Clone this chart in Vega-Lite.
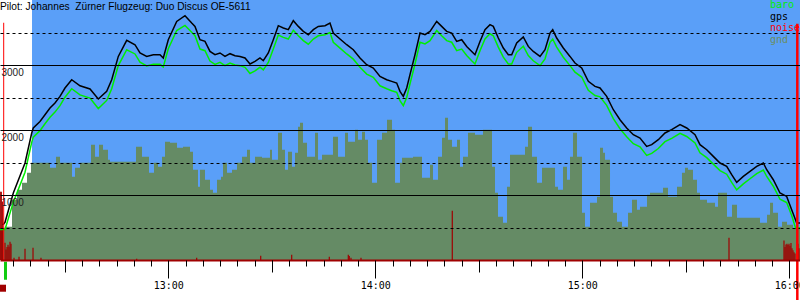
{
 "$schema": "https://vega.github.io/schema/vega-lite/v6.json",
 "width": 800, "height": 260,
 "autosize": {"type": "none"},
 "padding": {"left": 0, "top": 0, "right": 0, "bottom": 40},
 "background": "white",
 "config": {"view": {"stroke": null}},
 "resolve": {"axis": {"x": "independent"}},
 "datasets": {
  "gps": [{"m":12.09,"a":540},{"m":12.67,"a":580},{"m":15.08,"a":1031},{"m":18.47,"a":1492},{"m":20.41,"a":1954},{"m":20.87,"a":2031},{"m":22.81,"a":2132},{"m":24.26,"a":2235},{"m":25.71,"a":2338},{"m":27.16,"a":2415},{"m":28.61,"a":2517},{"m":30.06,"a":2646},{"m":32.0,"a":2774},{"m":34.41,"a":2681},{"m":37.31,"a":2631},{"m":39.71,"a":2477},{"m":42.15,"a":2594},{"m":43.6,"a":2774},{"m":45.51,"a":3132},{"m":47.95,"a":3379},{"m":50.35,"a":3312},{"m":51.8,"a":3185},{"m":53.74,"a":3132},{"m":55.66,"a":3158},{"m":57.6,"a":3158},{"m":58.55,"a":3108},{"m":60.0,"a":3389},{"m":62.44,"a":3671},{"m":64.84,"a":3758},{"m":66.79,"a":3646},{"m":67.74,"a":3594},{"m":69.19,"a":3389},{"m":70.64,"a":3363},{"m":72.09,"a":3209},{"m":73.54,"a":3158},{"m":74.99,"a":3185},{"m":76.44,"a":3132},{"m":77.89,"a":3174},{"m":79.34,"a":3143},{"m":80.79,"a":3132},{"m":82.24,"a":3108},{"m":83.69,"a":3015},{"m":85.14,"a":3055},{"m":86.58,"a":3108},{"m":87.54,"a":3066},{"m":88.99,"a":3185},{"m":90.44,"a":3389},{"m":91.89,"a":3605},{"m":93.34,"a":3569},{"m":94.79,"a":3543},{"m":96.24,"a":3682},{"m":97.69,"a":3594},{"m":99.14,"a":3517},{"m":100.59,"a":3466},{"m":102.04,"a":3543},{"m":103.48,"a":3594},{"m":105.43,"a":3605},{"m":106.87,"a":3646},{"m":107.83,"a":3492},{"m":109.78,"a":3400},{"m":111.72,"a":3312},{"m":113.63,"a":3235},{"m":115.57,"a":3108},{"m":117.51,"a":3004},{"m":119.43,"a":2954},{"m":121.37,"a":2824},{"m":123.31,"a":2774},{"m":124.76,"a":2748},{"m":126.21,"a":2723},{"m":127.16,"a":2594},{"m":128.12,"a":2517},{"m":129.11,"a":2646},{"m":130.06,"a":2851},{"m":131.51,"a":3158},{"m":132.96,"a":3492},{"m":134.41,"a":3466},{"m":135.86,"a":3517},{"m":137.8,"a":3671},{"m":139.25,"a":3594},{"m":140.7,"a":3517},{"m":142.15,"a":3492},{"m":143.6,"a":3363},{"m":145.05,"a":3389},{"m":146.5,"a":3286},{"m":147.95,"a":3209},{"m":148.9,"a":3158},{"m":150.35,"a":3363},{"m":151.8,"a":3543},{"m":153.25,"a":3620},{"m":154.21,"a":3594},{"m":155.66,"a":3415},{"m":157.11,"a":3261},{"m":158.56,"a":3158},{"m":159.54,"a":3158},{"m":160.99,"a":3338},{"m":162.9,"a":3431},{"m":164.35,"a":3286},{"m":165.8,"a":3209},{"m":167.75,"a":3132},{"m":169.2,"a":3235},{"m":170.65,"a":3492},{"m":171.43,"a":3543},{"m":172.58,"a":3415},{"m":174.5,"a":3261},{"m":176.44,"a":3132},{"m":177.89,"a":3031},{"m":179.83,"a":2954},{"m":181.75,"a":2748},{"m":183.69,"a":2671},{"m":185.14,"a":2646},{"m":187.08,"a":2517},{"m":189.0,"a":2312},{"m":190.93,"a":2158},{"m":192.87,"a":2031},{"m":194.8,"a":1928},{"m":196.73,"a":1877},{"m":198.67,"a":1748},{"m":200.12,"a":1774},{"m":202.04,"a":1851},{"m":203.98,"a":1954},{"m":205.92,"a":2005},{"m":208.33,"a":2082},{"m":210.27,"a":2031},{"m":212.68,"a":1928},{"m":214.12,"a":1774},{"m":216.07,"a":1697},{"m":217.98,"a":1594},{"m":219.92,"a":1492},{"m":221.86,"a":1440},{"m":223.31,"a":1312},{"m":224.76,"a":1194},{"m":226.68,"a":1286},{"m":228.62,"a":1363},{"m":230.56,"a":1440},{"m":232.48,"a":1492},{"m":233.46,"a":1389},{"m":235.37,"a":1235},{"m":237.31,"a":1031},{"m":239.25,"a":978},{"m":240.7,"a":774},{"m":242.15,"a":569},{"m":243.11,"a":569}],
  "baro": [{"m":11.22,"a":470},{"m":12.67,"a":470},{"m":15.08,"a":890},{"m":18.47,"a":1350},{"m":20.41,"a":1810},{"m":20.87,"a":1890},{"m":22.81,"a":1990},{"m":24.26,"a":2095},{"m":25.71,"a":2195},{"m":27.16,"a":2275},{"m":28.61,"a":2375},{"m":30.06,"a":2505},{"m":32.0,"a":2635},{"m":34.41,"a":2540},{"m":37.31,"a":2490},{"m":39.71,"a":2330},{"m":42.15,"a":2455},{"m":43.6,"a":2635},{"m":45.51,"a":2990},{"m":47.95,"a":3235},{"m":50.35,"a":3170},{"m":51.8,"a":3045},{"m":53.74,"a":2985},{"m":55.66,"a":3010},{"m":57.6,"a":3010},{"m":58.55,"a":2970},{"m":60.0,"a":3250},{"m":62.44,"a":3530},{"m":64.84,"a":3610},{"m":66.79,"a":3505},{"m":67.74,"a":3450},{"m":69.19,"a":3245},{"m":70.64,"a":3220},{"m":72.09,"a":3060},{"m":73.54,"a":3010},{"m":74.99,"a":3040},{"m":76.44,"a":2990},{"m":77.89,"a":3030},{"m":79.34,"a":3000},{"m":80.79,"a":2990},{"m":82.24,"a":2965},{"m":83.69,"a":2870},{"m":85.14,"a":2910},{"m":86.58,"a":2965},{"m":87.54,"a":2925},{"m":88.99,"a":3040},{"m":90.44,"a":3245},{"m":91.89,"a":3460},{"m":93.34,"a":3425},{"m":94.79,"a":3400},{"m":96.24,"a":3535},{"m":97.69,"a":3450},{"m":99.14,"a":3375},{"m":100.59,"a":3320},{"m":102.04,"a":3400},{"m":103.48,"a":3450},{"m":105.43,"a":3465},{"m":106.87,"a":3500},{"m":107.83,"a":3350},{"m":109.78,"a":3260},{"m":111.72,"a":3170},{"m":113.63,"a":3090},{"m":115.57,"a":2965},{"m":117.51,"a":2860},{"m":119.43,"a":2810},{"m":121.37,"a":2680},{"m":123.31,"a":2635},{"m":124.76,"a":2605},{"m":126.21,"a":2580},{"m":127.16,"a":2450},{"m":128.12,"a":2375},{"m":129.11,"a":2500},{"m":130.06,"a":2710},{"m":131.51,"a":3015},{"m":132.96,"a":3350},{"m":134.41,"a":3325},{"m":135.86,"a":3375},{"m":137.8,"a":3530},{"m":139.25,"a":3450},{"m":140.7,"a":3375},{"m":142.15,"a":3350},{"m":143.6,"a":3220},{"m":145.05,"a":3245},{"m":146.5,"a":3145},{"m":147.95,"a":3065},{"m":148.9,"a":3015},{"m":150.35,"a":3220},{"m":151.8,"a":3400},{"m":153.25,"a":3480},{"m":154.21,"a":3450},{"m":155.66,"a":3275},{"m":157.11,"a":3120},{"m":158.56,"a":3015},{"m":159.54,"a":3015},{"m":160.99,"a":3195},{"m":162.9,"a":3290},{"m":164.35,"a":3145},{"m":165.8,"a":3065},{"m":167.75,"a":2990},{"m":169.2,"a":3095},{"m":170.65,"a":3350},{"m":171.43,"a":3400},{"m":172.58,"a":3275},{"m":174.5,"a":3120},{"m":176.44,"a":2990},{"m":177.89,"a":2890},{"m":179.83,"a":2815},{"m":181.75,"a":2610},{"m":183.69,"a":2530},{"m":185.14,"a":2510},{"m":187.08,"a":2380},{"m":189.0,"a":2175},{"m":190.93,"a":2020},{"m":192.87,"a":1895},{"m":194.8,"a":1790},{"m":196.73,"a":1740},{"m":198.67,"a":1610},{"m":200.12,"a":1640},{"m":202.04,"a":1715},{"m":203.98,"a":1820},{"m":205.92,"a":1870},{"m":208.33,"a":1950},{"m":210.27,"a":1900},{"m":212.68,"a":1800},{"m":214.12,"a":1650},{"m":216.07,"a":1575},{"m":217.98,"a":1475},{"m":219.92,"a":1375},{"m":221.86,"a":1320},{"m":223.31,"a":1195},{"m":224.76,"a":1080},{"m":226.68,"a":1170},{"m":228.62,"a":1250},{"m":230.56,"a":1330},{"m":232.48,"a":1385},{"m":233.46,"a":1285},{"m":235.37,"a":1135},{"m":237.31,"a":935},{"m":239.25,"a":885},{"m":240.7,"a":685},{"m":241.8,"a":497},{"m":243.11,"a":497}],
  "gnd": [{"m":11.22,"a":497},{"m":12.67,"a":512},{"m":14.7,"a":928},{"m":16.15,"a":1082},{"m":17.6,"a":1189},{"m":19.05,"a":1343},{"m":20.21,"a":1497},{"m":25.71,"a":1420},{"m":27.45,"a":1589},{"m":28.61,"a":1497},{"m":32.09,"a":1281},{"m":32.96,"a":1420},{"m":34.41,"a":1497},{"m":37.6,"a":1774},{"m":38.76,"a":1589},{"m":39.92,"a":1774},{"m":41.08,"a":1697},{"m":42.52,"a":1543},{"m":43.1,"a":1512},{"m":50.64,"a":1743},{"m":52.38,"a":1589},{"m":54.41,"a":1343},{"m":55.86,"a":1497},{"m":57.02,"a":1435},{"m":58.18,"a":1589},{"m":59.05,"a":1820},{"m":60.5,"a":1805},{"m":62.53,"a":1728},{"m":64.27,"a":1743},{"m":66.29,"a":1666},{"m":67.16,"a":1389},{"m":68.61,"a":1128},{"m":69.19,"a":1389},{"m":70.64,"a":1235},{"m":72.09,"a":1082},{"m":72.96,"a":1035},{"m":74.12,"a":1235},{"m":75.28,"a":1281},{"m":75.86,"a":1497},{"m":77.02,"a":1343},{"m":78.47,"a":1389},{"m":79.92,"a":1497},{"m":81.37,"a":1589},{"m":82.82,"a":1697},{"m":83.69,"a":1497},{"m":85.14,"a":1589},{"m":87.16,"a":1574},{"m":89.48,"a":1697},{"m":90.06,"a":1543},{"m":91.8,"a":1958},{"m":92.96,"a":1697},{"m":93.83,"a":1389},{"m":94.7,"a":1666},{"m":95.86,"a":1435},{"m":96.73,"a":1651},{"m":97.6,"a":2051},{"m":98.18,"a":2112},{"m":99.05,"a":1805},{"m":100.21,"a":1589},{"m":102.53,"a":1958},{"m":103.4,"a":1543},{"m":104.56,"a":1620},{"m":107.74,"a":1897},{"m":109.19,"a":1589},{"m":111.22,"a":1958},{"m":112.09,"a":1820},{"m":114.12,"a":2005},{"m":114.99,"a":1851},{"m":116.15,"a":1974},{"m":117.02,"a":1851},{"m":117.89,"a":1497},{"m":119.05,"a":1189},{"m":120.5,"a":1851},{"m":121.95,"a":1958},{"m":123.4,"a":2158},{"m":124.85,"a":2005},{"m":125.72,"a":1189},{"m":127.16,"a":1497},{"m":127.74,"a":1574},{"m":130.93,"a":1589},{"m":133.54,"a":1266},{"m":135.86,"a":1466},{"m":136.73,"a":1235},{"m":138.18,"a":1589},{"m":139.34,"a":1882},{"m":140.21,"a":2189},{"m":141.08,"a":1851},{"m":142.24,"a":1743},{"m":143.69,"a":1851},{"m":144.56,"a":1435},{"m":145.43,"a":1589},{"m":146.87,"a":1958},{"m":148.9,"a":1928},{"m":151.22,"a":2005},{"m":153.83,"a":1435},{"m":154.7,"a":1035},{"m":155.57,"a":666},{"m":157.02,"a":574},{"m":158.18,"a":1128},{"m":159.05,"a":1620},{"m":163.4,"a":1743},{"m":164.27,"a":2051},{"m":165.43,"a":1589},{"m":166.87,"a":1189},{"m":168.33,"a":1420},{"m":172.1,"a":1128},{"m":172.96,"a":1082},{"m":174.41,"a":1435},{"m":175.57,"a":1235},{"m":176.44,"a":1589},{"m":177.31,"a":1958},{"m":178.47,"a":1589},{"m":179.92,"a":728},{"m":180.79,"a":512},{"m":182.24,"a":881},{"m":184.27,"a":974},{"m":185.14,"a":1728},{"m":186.01,"a":1651},{"m":186.59,"a":1543},{"m":188.04,"a":974},{"m":188.91,"a":728},{"m":190.06,"a":589},{"m":191.51,"a":512},{"m":193.26,"a":728},{"m":194.41,"a":928},{"m":195.86,"a":774},{"m":196.73,"a":820},{"m":198.76,"a":1005},{"m":199.63,"a":1035},{"m":203.4,"a":1112},{"m":204.85,"a":974},{"m":207.46,"a":1128},{"m":208.9,"a":1343},{"m":209.77,"a":1420},{"m":210.64,"a":1389},{"m":212.09,"a":1235},{"m":213.25,"a":1035},{"m":214.12,"a":928},{"m":216.15,"a":881},{"m":218.47,"a":820},{"m":219.34,"a":1035},{"m":221.95,"a":666},{"m":223.4,"a":851},{"m":224.85,"a":651},{"m":231.51,"a":574},{"m":233.55,"a":697},{"m":234.42,"a":881},{"m":235.29,"a":728},{"m":236.73,"a":512},{"m":237.89,"a":589},{"m":239.34,"a":543},{"m":241.08,"a":497},{"m":243.11,"a":497}],
  "noise": [{"m":11.3,"a":1050},{"m":11.6,"a":1050},{"m":11.9,"a":900},{"m":12.67,"a":266},{"m":12.96,"a":160},{"m":13.25,"a":200},{"m":13.54,"a":235},{"m":13.83,"a":205},{"m":14.12,"a":280},{"m":14.41,"a":250},{"m":15.28,"a":35},{"m":16.73,"a":51},{"m":18.47,"a":174},{"m":20.79,"a":189},{"m":23.1,"a":35},{"m":50.84,"a":20},{"m":68.23,"a":35},{"m":86.79,"a":66},{"m":95.77,"a":82},{"m":106.67,"a":51},{"m":112.18,"a":82},{"m":112.47,"a":60},{"m":112.96,"a":35},{"m":115.86,"a":35},{"m":142.32,"a":758},{"m":222.53,"a":343},{"m":238.47,"a":300},{"m":238.76,"a":200},{"m":239.05,"a":240},{"m":239.34,"a":250},{"m":239.63,"a":230},{"m":239.92,"a":250},{"m":240.21,"a":220},{"m":240.5,"a":260},{"m":240.79,"a":180},{"m":241.08,"a":150},{"m":241.37,"a":120},{"m":241.66,"a":100},{"m":242.53,"a":250},{"m":242.82,"a":180}]
 },
 "layer": [
  {"data": {"values": [{"m": 20.5, "m2": 243.11, "a": 0, "a2": 4000}]},
   "mark": {"type": "rect", "color": "#5a9ff8"},
   "encoding": {
    "x": {"field": "m", "type": "quantitative", "scale": {"domain": [11.22, 243.11], "nice": false, "zero": false},
     "axis": {"title": null, "orient": "bottom", "values": [60, 120, 180, 240], "grid": false, "domainColor": "#a00000", "domainWidth": 2, "tickColor": "#000", "tickWidth": 1, "tickSize": 18,
      "labelExpr": "(12 + datum.value / 60) + ':00'",
      "labelFont": "DejaVu Sans Mono", "labelFontSize": 10, "labelColor": "#000", "labelPadding": 2, "labelOverlap": false, "labelFlush": false, "zindex": 1}},
    "x2": {"field": "m2"},
    "y": {"field": "a", "type": "quantitative", "scale": {"domain": [0, 4000], "nice": false},
     "axis": {"title": null, "values": [500,1000,1500,2000,2500,3000,3500], "format": "d", "grid": true, "gridColor": "#000", "gridWidth": 1,
      "gridDash": {"condition": {"test": "datum.value % 1000 !== 0", "value": [3, 3]}, "value": []},
      "domain": false, "ticks": false, "labelExpr": "datum.value % 1000 === 0 ? datum.label : ''",
      "labelAlign": "left", "labelBaseline": "top", "labelPadding": -1, "labelOffset": 2, "labelFont": "Liberation Sans", "labelFontSize": 10, "labelColor": "#222", "zindex": 1}},
    "y2": {"field": "a2"}
   }},
  {"data": {"name": "gnd"}, "mark": {"type": "area", "interpolate": "step-after", "color": "#658b65", "opacity": 1},
   "encoding": {"x": {"field": "m", "type": "quantitative",
     "axis": {"title": null, "orient": "bottom", "values": [15,20,25,30,35,40,45,50,55,60,65,70,75,80,85,90,95,100,105,110,115,120,125,130,135,140,145,150,155,160,165,170,175,180,185,190,195,200,205,210,215,220,225,230,235,240], "grid": false, "domain": false, "labels": false, "tickColor": "#000", "tickWidth": 1, "tickSize": 6, "zindex": 1}},
    "y": {"field": "a", "type": "quantitative"}}},
  {"data": {"name": "noise"}, "mark": {"type": "rule", "color": "#a00000", "strokeWidth": 1.2},
   "encoding": {"x": {"field": "m", "type": "quantitative",
     "axis": {"title": null, "orient": "bottom", "values": [30, 90, 150, 210], "grid": false, "domain": false, "labels": false, "tickColor": "#000", "tickWidth": 1, "tickSize": 12, "zindex": 1}},
    "y": {"field": "a", "type": "quantitative"}, "y2": {"datum": 0}}},
  {"data": {"name": "baro"}, "mark": {"type": "line", "strokeWidth": 1.5},
   "encoding": {"x": {"field": "m", "type": "quantitative", "axis": null}, "y": {"field": "a", "type": "quantitative"},
    "color": {"datum": "baro", "type": "nominal", "scale": {"domain": ["baro", "gps", "noise", "gnd"], "range": ["#00ee00", "#000000", "#ff0000", "#6b8e60"]},
     "legend": {"title": null, "orient": "none", "legendX": 758, "legendY": 0, "padding": 0, "symbolSize": 0, "symbolOpacity": 0, "symbolStrokeWidth": 0, "labelFont": "DejaVu Sans Mono", "labelFontSize": 10, "labelOffset": 2, "rowPadding": 1.5, "labelBaseline": "middle", "encode": {"labels": {"update": {"fill": {"scale": "color", "field": "value"}}}}}}}},
  {"data": {"name": "gps"}, "mark": {"type": "line", "strokeWidth": 1.5},
   "encoding": {"x": {"field": "m", "type": "quantitative", "axis": null}, "y": {"field": "a", "type": "quantitative"}, "color": {"datum": "gps", "type": "nominal"}}},
  {"data": {"values": [{"m": 12.29, "a": 0, "a2": 3650}]}, "mark": {"type": "rule", "color": "#ff0000", "strokeWidth": 1},
   "encoding": {"x": {"field": "m", "type": "quantitative", "axis": null}, "y": {"field": "a", "type": "quantitative"}, "y2": {"field": "a2"}}},
  {"data": {"values": [{"m": 242.33, "a": -640, "a2": 3635}]}, "mark": {"type": "rule", "color": "#ff0000", "strokeWidth": 2.5},
   "encoding": {"x": {"field": "m", "type": "quantitative", "axis": null}, "y": {"field": "a", "type": "quantitative"}, "y2": {"field": "a2"}}},
  {"data": {"values": [{"m": 12.38, "m2": 13.25, "a": -27, "a2": -304}]}, "mark": {"type": "rect", "color": "#11cc11"},
   "encoding": {"x": {"field": "m", "type": "quantitative", "axis": null}, "x2": {"field": "m2"}, "y": {"field": "a", "type": "quantitative"}, "y2": {"field": "a2"}}},
  {"data": {"values": [{"m": 11.22, "m2": 12.96, "a": -380, "a2": -488}]}, "mark": {"type": "rect", "color": "#a00000"},
   "encoding": {"x": {"field": "m", "type": "quantitative", "axis": null}, "x2": {"field": "m2"}, "y": {"field": "a", "type": "quantitative"}, "y2": {"field": "a2"}}},
  {"data": {"values": [{"t": "Pilot: Johannes\u00a0 Zürner Flugzeug: Duo Discus OE-5611"}]},
   "mark": {"type": "text", "align": "left", "baseline": "alphabetic", "dy": 9.7, "font": "Liberation Sans", "fontSize": 10.2, "color": "#000"},
   "encoding": {"x": {"datum": 11.22, "type": "quantitative", "axis": null}, "y": {"datum": 4000, "type": "quantitative"}, "text": {"field": "t"}}}
 ]
}
